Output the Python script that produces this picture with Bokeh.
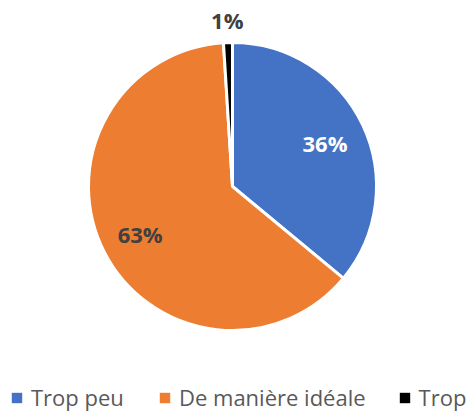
import math
from bokeh.plotting import figure
from bokeh.models import ColumnDataSource, Range1d, Legend, LegendItem
from bokeh.core.properties import value
from bokeh.embed import file_html
from bokeh.resources import INLINE

categories = ["Trop peu", "De manière idéale", "Trop"]
shares = [36, 63, 1]
labels = ["36%", "63%", "1%"]
colors = ["#4472C4", "#ED7D31", "#000000"]
label_colors = ["#FFFFFF", "#404040", "#404040"]
label_radius = [0.71, 0.72, 1.16]

W, H = 475, 414
p = figure(width=W, height=H, output_backend="svg", toolbar_location=None,
           x_range=Range1d(0, W), y_range=Range1d(0, H),
           min_border=0, outline_line_color=None)
p.axis.visible = False
p.grid.visible = False
p.background_fill_color = "white"

cx, cy, r = 232, H - 186, 144
total = float(sum(shares))
starts, ends, lx, ly = [], [], [], []
cum = 0.0
for s, lr in zip(shares, label_radius):
    a0 = math.pi / 2 - 2 * math.pi * cum / total
    cum += s
    a1 = math.pi / 2 - 2 * math.pi * cum / total
    starts.append(a0)
    ends.append(a1)
    mid = (a0 + a1) / 2
    lx.append(cx + lr * r * math.cos(mid))
    ly.append(cy + lr * r * math.sin(mid))

src = ColumnDataSource(dict(cat=categories, start=starts, end=ends, color=colors,
                            lx=lx, ly=ly, label=labels, lcolor=label_colors))
p.wedge(x=cx, y=cy, radius=r, start_angle="start", end_angle="end", direction="clock",
        fill_color="color", line_color="white", line_width=3, source=src)
p.text(x="lx", y="ly", text="label", text_color="lcolor", text_font=value("Open Sans"),
       text_font_style="bold", text_font_size="22px", text_align="center",
       text_baseline="middle", source=src)

items = []
for c, cat in zip(colors, categories):
    rr = p.quad(left=[-1000], right=[-999], bottom=[-1000], top=[-999],
                fill_color=c, line_color=None)
    items.append(LegendItem(label=cat, renderers=[rr]))
legend = Legend(items=items, orientation="horizontal", location=(10, 2),
                glyph_width=13, glyph_height=13, label_standoff=8, spacing=32,
                label_width=95,
                padding=0, margin=0, border_line_alpha=0, background_fill_alpha=0,
                label_text_font="Open Sans", label_text_font_size="22px",
                label_text_color="#595959", label_height=20)
p.add_layout(legend, "center")

open("out.html", "w").write(file_html(p, INLINE))
